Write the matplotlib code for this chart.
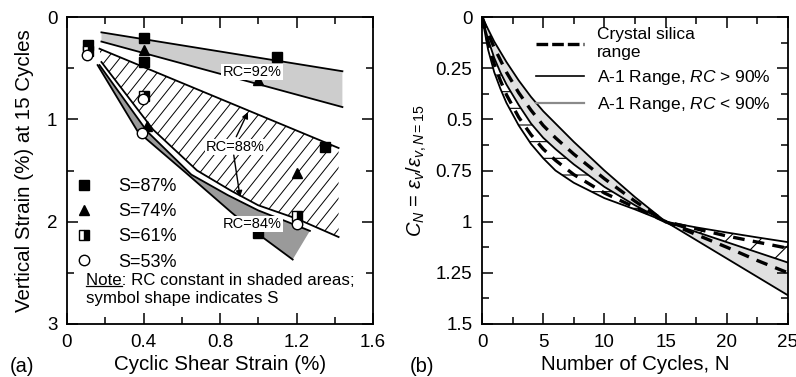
import numpy as np
import matplotlib
matplotlib.use('Agg')
import matplotlib.pyplot as plt
from matplotlib.lines import Line2D
from matplotlib.patches import Polygon
from matplotlib.ticker import MultipleLocator, FuncFormatter

plt.rcParams['font.family'] = ['Liberation Sans', 'DejaVu Sans']
plt.rcParams['mathtext.fontset'] = 'custom'
plt.rcParams['mathtext.rm'] = 'Liberation Sans'
plt.rcParams['mathtext.it'] = 'Liberation Sans:italic'
plt.rcParams['hatch.linewidth'] = 0.8

# ---- panel (a): vertical strain vs cyclic shear strain ----
rc92_x = [0.18, 1.44]
rc92_top = [0.15, 0.53]
rc92_bot = [0.24, 0.88]

rc88_top_x = [0.17, 1.42]
rc88_top = [0.31, 1.28]
rc88_bot_x = [0.18, 0.45, 0.68, 0.86, 1.0, 1.2, 1.42]
rc88_bot = [0.44, 1.10, 1.50, 1.70, 1.84, 1.97, 2.15]

rc84_top_x = [0.17, 0.42, 0.65, 0.84, 1.0, 1.15, 1.27]
rc84_top = [0.47, 1.12, 1.54, 1.74, 1.89, 2.00, 2.09]
rc84_bot_x = [0.16, 0.37, 0.62, 0.86, 0.97, 1.18]
rc84_bot = [0.47, 1.12, 1.52, 1.91, 2.08, 2.37]

s87_x = [0.11, 0.40, 0.40, 1.10, 1.35, 1.00]
s87_y = [0.27, 0.21, 0.44, 0.39, 1.27, 2.11]
s74_x = [0.40, 1.00, 0.42, 1.20]
s74_y = [0.32, 0.62, 1.07, 1.52]
s61_x = [0.11, 0.405, 1.20]
s61_y = [0.33, 0.77, 1.94]
s53_x = [0.105, 0.395, 0.39, 1.20]
s53_y = [0.37, 0.80, 1.13, 2.02]

# ---- panel (b): normalized strain vs number of cycles ----
cycles = [0, 0.5, 1, 1.5, 2, 3, 4, 5, 6, 7.5, 10, 12.5, 15, 17.5, 20, 22.5, 25]
a1_hi_outer = [0, 0.16, 0.27, 0.35, 0.42, 0.53, 0.62, 0.69, 0.75, 0.81, 0.885, 0.94, 1.0, 1.028, 1.053, 1.077, 1.10]
silica_1 = [0, 0.13, 0.23, 0.31, 0.38, 0.49, 0.575, 0.645, 0.70, 0.77, 0.86, 0.93, 1.0, 1.035, 1.07, 1.10, 1.13]
a1_mid = [0, 0.11, 0.20, 0.27, 0.33, 0.43, 0.52, 0.59, 0.645, 0.72, 0.83, 0.92, 1.0, 1.05, 1.10, 1.15, 1.20]
silica_2 = [0, 0.08, 0.15, 0.21, 0.27, 0.37, 0.455, 0.53, 0.59, 0.67, 0.79, 0.90, 1.0, 1.063, 1.125, 1.19, 1.25]
a1_lo_outer = [0, 0.06, 0.12, 0.17, 0.22, 0.31, 0.39, 0.46, 0.52, 0.61, 0.75, 0.88, 1.0, 1.09, 1.18, 1.27, 1.36]

fig = plt.figure(figsize=(7.96, 3.77), dpi=100)
ax1 = fig.add_axes([67/796, 53/377, 306/796, 307/377])
ax2 = fig.add_axes([482/796, 53/377, 306/796, 307/377])

lw = 1.3
# RC=92% stippled band
ax1.fill_between(rc92_x, rc92_top, rc92_bot, facecolor='#cdcdcd', lw=0, zorder=1)
ax1.plot(rc92_x, rc92_top, color='k', lw=lw, zorder=3)
ax1.plot(rc92_x, rc92_bot, color='k', lw=lw, zorder=3)

# RC=88% hatched band (hatch lines clipped to the band)
hx = rc88_top_x + rc88_bot_x[::-1]
hy = rc88_top + rc88_bot[::-1]
band = Polygon(np.column_stack([hx, hy]), closed=True, facecolor='white', lw=0, zorder=1)
ax1.add_patch(band)
xs = np.array([0.0, 1.0])
for c in np.arange(-1.2, 1.2, 0.04):
    hl, = ax1.plot(xs, 1.25 * (xs - c), color='k', lw=0.7, transform=ax1.transAxes, zorder=2)
    hl.set_clip_path(band)
ax1.plot(rc88_top_x, rc88_top, color='k', lw=lw, zorder=3)
ax1.plot(rc88_bot_x, rc88_bot, color='k', lw=lw, zorder=3)

# RC=84% dark band
gx = rc84_top_x + rc84_bot_x[::-1]
gy = rc84_top + rc84_bot[::-1]
ax1.fill(gx, gy, facecolor='#9a9a9a', lw=0, zorder=1)
ax1.plot(rc84_top_x, rc84_top, color='k', lw=lw, zorder=3)
ax1.plot(rc84_bot_x, rc84_bot, color='k', lw=lw, zorder=3)

# data points
ms = 7.5
ax1.plot(s87_x, s87_y, 's', color='k', ms=ms, ls='none', zorder=5, label='S=87%')
ax1.plot(s74_x, s74_y, '^', color='k', ms=6.5, ls='none', zorder=5, label='S=74%')
ax1.plot(s61_x, s61_y, 's', ls='none', ms=ms, fillstyle='right', markerfacecolor='k',
         markerfacecoloralt='white', markeredgecolor='k', zorder=6, label='S=61%')
ax1.plot(s53_x, s53_y, 'o', ls='none', ms=ms, markerfacecolor='white', markeredgecolor='k',
         mew=1.0, zorder=7, label='S=53%')

bb = dict(facecolor='white', edgecolor='none', pad=0.8)
ax1.text(0.967, 0.54, 'RC=92%', fontsize=10.5, ha='center', va='center', bbox=bb, zorder=8)
ax1.text(0.88, 1.27, 'RC=88%', fontsize=10.5, ha='center', va='center', bbox=bb, zorder=8)
ax1.text(0.97, 2.02, 'RC=84%', fontsize=10.5, ha='center', va='center', bbox=bb, zorder=8)
arr = dict(arrowstyle='-|>', color='k', lw=1.0, mutation_scale=9, shrinkA=0, shrinkB=0)
ax1.annotate('', xy=(0.946, 0.93), xytext=(0.885, 1.17), arrowprops=arr, zorder=8)
ax1.annotate('', xy=(0.905, 1.76), xytext=(0.872, 1.35), arrowprops=arr, zorder=8)

ax1.legend(loc='upper left', bbox_to_anchor=(0.03, 0.475), frameon=False, fontsize=13,
           handlelength=0.9, handletextpad=1.45, borderpad=0, borderaxespad=0,
           labelspacing=0.45, numpoints=1)

note_x, note_y = 0.062, 0.143
ax1.text(note_x, note_y, 'Note: RC constant in shaded areas;', transform=ax1.transAxes,
         fontsize=12.2, va='center', ha='left')
ax1.text(note_x, 0.083, 'symbol shape indicates S', transform=ax1.transAxes,
         fontsize=12.2, va='center', ha='left')
tmp = ax1.text(note_x, note_y, 'Note', transform=ax1.transAxes, fontsize=12.2,
               va='center', ha='left', alpha=0)

ax1.set_xlim(0, 1.6)
ax1.set_ylim(3, 0)
ax1.xaxis.set_major_locator(MultipleLocator(0.4))
ax1.xaxis.set_minor_locator(MultipleLocator(0.2))
ax1.yaxis.set_major_locator(MultipleLocator(1))
ax1.yaxis.set_minor_locator(MultipleLocator(0.5))
ax1.xaxis.set_major_formatter(FuncFormatter(lambda v, p: '0' if v == 0 else f'{v:.1f}'))
ax1.set_xlabel('Cyclic Shear Strain (%)', fontsize=14.8, labelpad=3)
ax1.set_ylabel('Vertical Strain (%) at 15 Cycles', fontsize=14.8, labelpad=9)

# ---- panel (b) ----
N = np.array(cycles)
ax2.fill_between(cycles, a1_mid, a1_lo_outer, facecolor='#e0e0e0', lw=0, zorder=1)
ax2.fill_between(cycles, a1_hi_outer, a1_mid, where=N <= 15, facecolor='none',
                 edgecolor='k', hatch='-', lw=0, zorder=1)
ax2.fill_between(cycles, a1_hi_outer, a1_mid, where=N >= 15, facecolor='none',
                 edgecolor='k', hatch='/', lw=0, zorder=1)
ax2.plot(cycles, a1_hi_outer, color='k', lw=lw, zorder=3)
ax2.plot(cycles, a1_mid, color='k', lw=lw, zorder=3)
ax2.plot(cycles, a1_lo_outer, color='k', lw=lw, zorder=3)
ax2.plot(cycles, silica_1, color='k', lw=2.4, dashes=(3.5, 2.5), zorder=4)
ax2.plot(cycles, silica_2, color='k', lw=2.4, dashes=(3.5, 2.5), zorder=4)

handles = [Line2D([], [], color='k', lw=2.4, dashes=(3.5, 1.2)),
           Line2D([], [], color='k', lw=1.2),
           Line2D([], [], color='#8a8a8a', lw=1.6)]
labels = ['Crystal silica\nrange', 'A-1 Range, $RC$ > 90%', 'A-1 Range, $RC$ < 90%']
leg = ax2.legend(handles, labels, loc='upper right', bbox_to_anchor=(0.945, 0.968), frameon=False,
                 fontsize=12.5, handlelength=2.8, handletextpad=0.75, labelspacing=0.45,
                 borderpad=0, borderaxespad=0)
for t in leg.get_texts():
    t.set_linespacing(1.3)

ax2.set_xlim(0, 25)
ax2.set_ylim(1.5, 0)
ax2.xaxis.set_major_locator(MultipleLocator(5))
ax2.xaxis.set_minor_locator(MultipleLocator(2.5))
ax2.yaxis.set_major_locator(MultipleLocator(0.25))
ax2.yaxis.set_minor_locator(MultipleLocator(0.125))
ax2.yaxis.set_major_formatter(FuncFormatter(lambda v, p: f'{v:g}'))
ax2.set_xlabel('Number of Cycles, N', fontsize=14.8, labelpad=3)
ax2.set_ylabel(r'$C_N$ = $\varepsilon_v/\varepsilon_{v,N=15}$', fontsize=14.5, labelpad=5)

for ax in (ax1, ax2):
    ax.tick_params(which='both', direction='in', top=True, right=True, labelsize=13.5, width=1.1)
    ax.tick_params(which='major', length=8, pad=7)
    ax.tick_params(which='minor', length=5)
    for s in ax.spines.values():
        s.set_linewidth(1.3)

fig.text(22/796, 1 - 366/377, '(a)', fontsize=14.5, ha='center', va='center')
fig.text(422/796, 1 - 366/377, '(b)', fontsize=14.5, ha='center', va='center')

# underline "Note"
fig.canvas.draw()
r = fig.canvas.get_renderer()
ext = tmp.get_window_extent(r)
fig.add_artist(Line2D([ext.x0, ext.x1], [ext.y0 + 1.5, ext.y0 + 1.5], transform=None,
                      color='k', lw=0.9))

fig.savefig('out.png', dpi=100)
